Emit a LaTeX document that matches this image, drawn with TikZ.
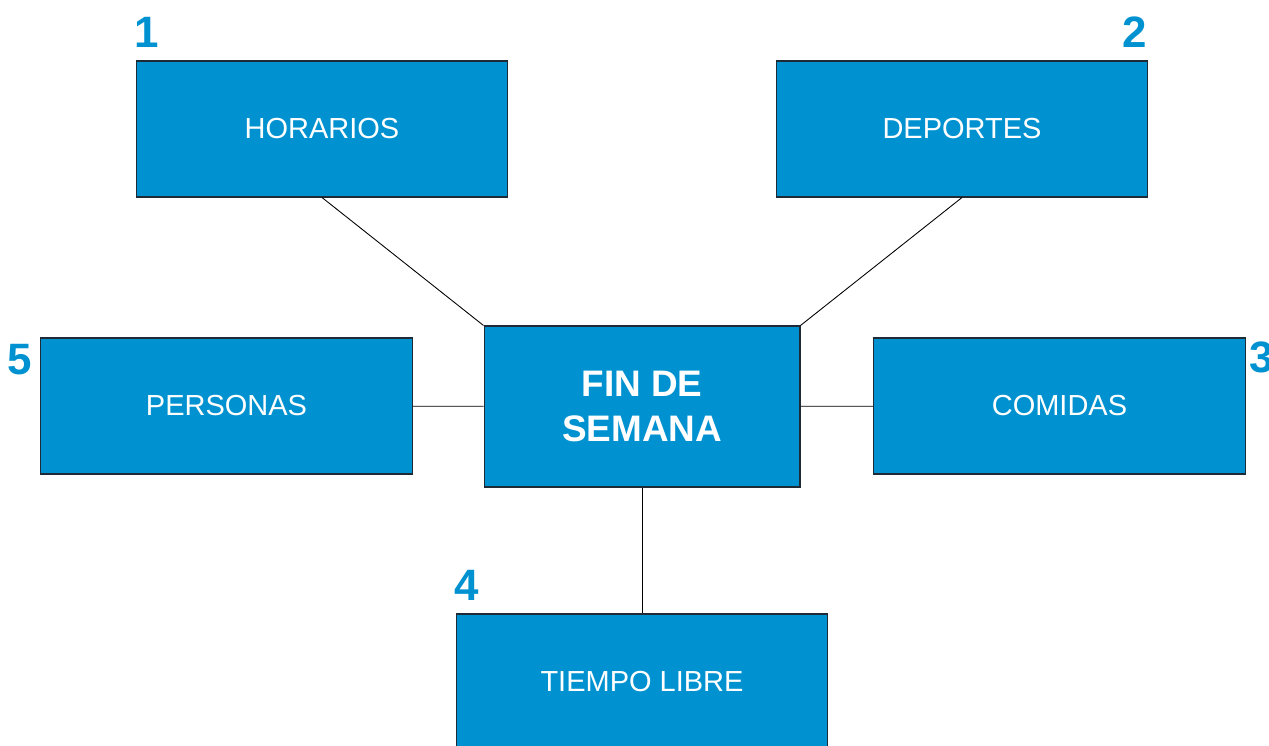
\documentclass[tikz,border=0pt]{standalone}
\usepackage{fontspec}
\setmainfont{Liberation Sans}
\usepackage{tikz}

\definecolor{boxblue}{HTML}{0092D0}
\definecolor{boxedge}{HTML}{1E2B36}

\begin{document}
\begin{tikzpicture}
  [x=0.02cm,y=-0.02cm,
   box/.style={rectangle,draw=boxedge,line width=0.6pt,fill=boxblue,text=white,
     minimum width=7.44cm,minimum height=2.72cm,inner sep=0pt,
     font=\fontsize{16.5}{20}\selectfont},
   hub/.style={box,minimum width=6.32cm,minimum height=3.22cm,align=center,
     font=\fontsize{21}{25.5}\selectfont\bfseries},
   num/.style={text=boxblue,inner sep=0pt,font=\fontsize{25}{30}\selectfont\bfseries}]
  \useasboundingbox (0,0) rectangle (1269,746);
  \node[hub] (fin) at (642,406.5) {FIN DE\\SEMANA};
  \node[box] (hor) at (322,129)   {HORARIOS};
  \node[box] (dep) at (962,129)   {DEPORTES};
  \node[box] (com) at (1059.5,406) {COMIDAS};
  \node[box] (per) at (226.5,406) {PERSONAS};
  \node[box] (tie) at (642,682)   {TIEMPO LIBRE};

  \node[num] (n1) at (147,32)  {1};
  \node[num] (n2) at (1135,32) {2};
  \node[num] (n3) at (1262,357) {3};
  \node[num] (n4) at (467,585) {4};
  \node[num] (n5) at (20,360)  {5};

  \foreach \from/\to in {hor.south/fin.north west,dep.south/fin.north east,per/fin,com/fin,tie/fin}
    \draw[line width=0.5pt] (\from) -- (\to);
\end{tikzpicture}
\end{document}
